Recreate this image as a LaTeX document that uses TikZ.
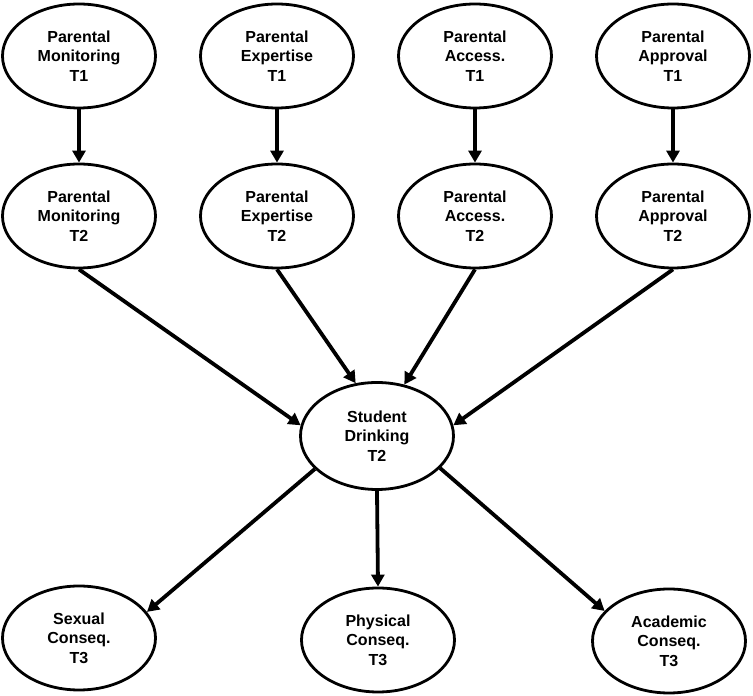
\documentclass[tikz,border=0pt]{standalone}
\usepackage{fontspec}
\setmainfont{Liberation Sans}
\usetikzlibrary{shapes.geometric, positioning, arrows.meta}

\begin{document}
\begin{tikzpicture}[x=1pt, y=1pt, node distance=198pt, on grid,
    var/.style={ellipse, draw, line width=2.8pt, minimum width=153pt, minimum height=104pt,
        inner sep=0pt, align=center, font=\fontsize{16}{19.5}\selectfont\bfseries},
    link/.style={-{Triangle[width=13pt,length=12pt]}, line width=3.8pt}]
        \useasboundingbox (0,0) rectangle (753,696);

        % parenting at T1
        \node[var] (mon1) at (79,640) {Parental\\Monitoring\\T1};
        \node[var] (exp1) [right=of mon1] {Parental\\Expertise\\T1};
        \node[var] (acc1) [right=of exp1] {Parental\\Access.\\T1};
        \node[var] (app1) [right=of acc1] {Parental\\Approval\\T1};

        % parenting at T2
        \node[var] (mon2) [below=160pt of mon1] {Parental\\Monitoring\\T2};
        \node[var] (exp2) [below=160pt of exp1] {Parental\\Expertise\\T2};
        \node[var] (acc2) [below=160pt of acc1] {Parental\\Access.\\T2};
        \node[var] (app2) [below=160pt of app1] {Parental\\Approval\\T2};

        \node[var, minimum height=107pt] (stud) at (377,260) {Student\\Drinking\\T2};

        % consequences at T3
        \node[var] (sex) at (79,58) {Sexual\\Conseq.\\T3};
        \node[var] (phy) at (378,56) {Physical\\Conseq.\\T3};
        \node[var] (aca) at (669,55) {Academic\\Conseq.\\T3};

        \draw[link] (mon1) -- (mon2);
        \draw[link] (exp1) -- (exp2);
        \draw[link] (acc1) -- (acc2);
        \draw[link] (app1) -- (app2);

        \draw[link] (mon2.south) -- (stud.172);
        \draw[link] (exp2.south) -- (stud.112);
        \draw[link] (acc2.south) -- (stud.62);
        \draw[link] (app2.south) -- (stud.8);

        \draw[link] (stud.208) -- (sex.21);
        \draw[link] (stud.south) -- (phy.north);
        \draw[link] (stud.333) -- (aca.155);
    \end{tikzpicture}
\end{document}
